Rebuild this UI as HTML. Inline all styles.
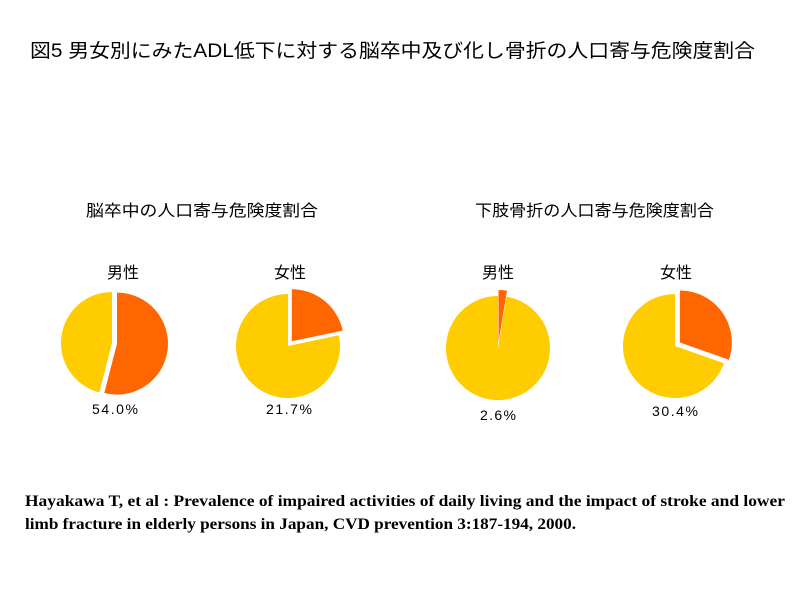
<!DOCTYPE html>
<html><head><meta charset="utf-8"><style>
body{margin:0;background:#fff;}
svg text{font-family:"Liberation Sans","Noto Sans CJK JP",sans-serif;fill:#000;}
</style></head><body>
<svg width="795" height="598" xmlns="http://www.w3.org/2000/svg">
<rect width="795" height="598" fill="#fff"/>
<text x="30" y="57" font-size="19" textLength="725" lengthAdjust="spacingAndGlyphs">図5  男女別にみたADL低下に対する脳卒中及び化し骨折の人口寄与危険度割合</text>
<text x="86" y="216" font-size="16" textLength="232" lengthAdjust="spacingAndGlyphs">脳卒中の人口寄与危険度割合</text>
<text x="475" y="216" font-size="16" textLength="239" lengthAdjust="spacingAndGlyphs">下肢骨折の人口寄与危険度割合</text>
<text x="107" y="278" font-size="16">男性</text>
<text x="274" y="278" font-size="16">女性</text>
<text x="482" y="278" font-size="16">男性</text>
<text x="660" y="278" font-size="16">女性</text>
<path d="M112,343 L99.3,392.4 A51,51 0 0 1 112,292 Z" fill="#FFCC00"/>
<path d="M117,343.6 L117,292.6 A51,51 0 1 1 104.3,393 Z" fill="#FF6600"/>
<path d="M288,346 L338.9,335.3 A52,52 0 1 1 288,294 Z" fill="#FFCC00"/>
<path d="M291.8,341.3 L291.8,289.3 A52,52 0 0 1 342.7,330.6 Z" fill="#FF6600"/>
<path d="M498,348 L506.5,296.7 A52,52 0 1 1 498,296 Z" fill="#FFCC00"/>
<path d="M498.5,342 L498.5,290 A52,52 0 0 1 507,290.7 Z" fill="#FF6600"/>
<path d="M675,346 L724,363.3 A52,52 0 1 1 675,294 Z" fill="#FFCC00"/>
<path d="M679.9,342.5 L679.9,290.5 A52,52 0 0 1 728.9,359.8 Z" fill="#FF6600"/>
<text x="92" y="414" font-size="14" textLength="46">54.0%</text>
<text x="266" y="414" font-size="14" textLength="46">21.7%</text>
<text x="480" y="420" font-size="14" textLength="36">2.6%</text>
<text x="652" y="416" font-size="14" textLength="46">30.4%</text>
<text x="25" y="506" font-size="16" font-weight="bold" style="font-family:'Liberation Serif',serif" textLength="760" lengthAdjust="spacingAndGlyphs">Hayakawa T, et al : Prevalence of impaired activities of daily living and the impact of stroke and lower</text>
<text x="25" y="529" font-size="16" font-weight="bold" style="font-family:'Liberation Serif',serif" textLength="551" lengthAdjust="spacingAndGlyphs">limb fracture in elderly persons in Japan, CVD prevention  3:187-194, 2000.</text>
</svg>
</body></html>
